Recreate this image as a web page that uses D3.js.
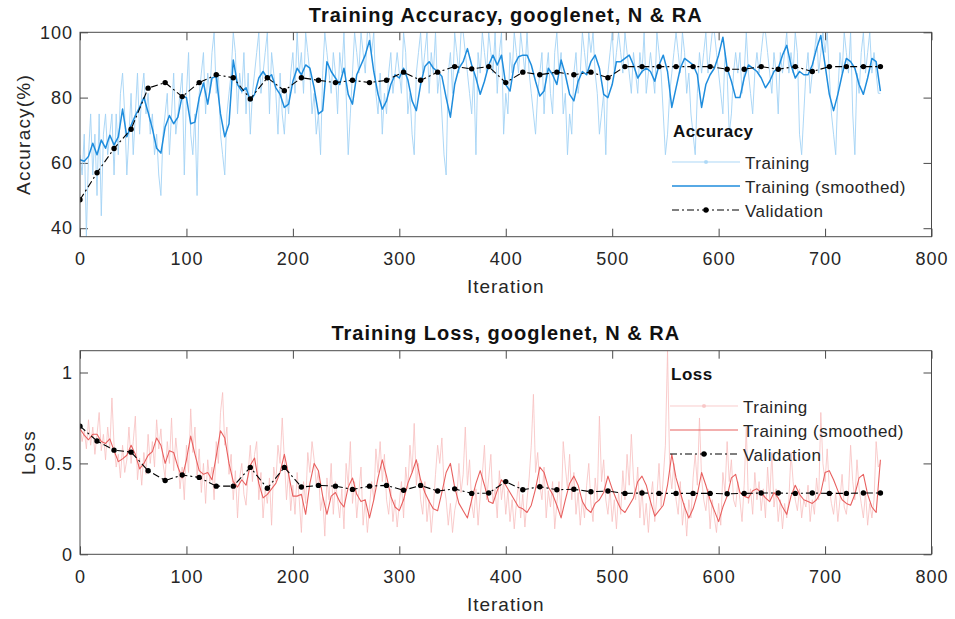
<!DOCTYPE html>
<html>
<head>
<meta charset="utf-8">
<style type="text/css">

  body{
    margin: 0;
    background: white;
  }

  svg text{
    font-family: 'Liberation Sans', Arial, Helvetica, sans-serif;
    fill: #262626;
  }

</style>
</head>
<body>

<script src="https://cdn.jsdelivr.net/npm/d3@7/dist/d3.min.js" type="text/javascript"></script>

<svg id="chart" width="955" height="619"></svg>

<script>

// ---- data ----

var xTicks = [0, 100, 200, 300, 400, 500, 600, 700, 800];
var accTicks = [40, 60, 80, 100];
var lossTicks = [0, 0.5, 1];

var rawStep = 2;     // iterations between raw points
var smoothStep = 4;  // iterations between smoothed points
var valStep = 16;    // iterations between validation points

// raw mini-batch accuracy, one value every 2 iterations
var accRaw = [
  62.5, 56.3, 68.8, 37.5, 62.5, 75, 56.3, 68.8, 50, 75,
  43.8, 68.8, 75, 62.5, 68.8, 75, 56.3, 75, 62.5, 81.3,
  87.5, 75, 56.3, 68.8, 81.3, 62.5, 75, 87.5, 68.8, 81.3,
  87.5, 75, 81.3, 68.8, 75, 62.5, 68.8, 56.3, 50, 68.8,
  75, 81.3, 62.5, 75, 87.5, 68.8, 75, 81.3, 87.5, 56.3,
  81.3, 93.8, 68.8, 62.5, 75, 50, 81.3, 87.5, 93.8, 75,
  87.5, 81.3, 93.8, 100, 81.3, 87.5, 68.8, 62.5, 56.3, 75,
  81.3, 87.5, 100, 93.8, 75, 87.5, 81.3, 93.8, 75, 87.5,
  68.8, 81.3, 87.5, 93.8, 100, 81.3, 87.5, 93.8, 100, 75,
  93.8, 87.5, 81.3, 68.8, 87.5, 75, 68.8, 81.3, 75, 87.5,
  93.8, 81.3, 100, 87.5, 93.8, 81.3, 100, 93.8, 87.5, 75,
  81.3, 68.8, 75, 62.5, 87.5, 100, 93.8, 87.5, 81.3, 93.8,
  87.5, 75, 93.8, 87.5, 100, 81.3, 62.5, 75, 87.5, 100,
  93.8, 87.5, 100, 93.8, 87.5, 100, 100, 93.8, 100, 81.3,
  75, 87.5, 68.8, 81.3, 75, 87.5, 93.8, 81.3, 87.5, 93.8,
  87.5, 81.3, 100, 93.8, 75, 81.3, 68.8, 62.5, 87.5, 93.8,
  100, 87.5, 93.8, 100, 81.3, 93.8, 87.5, 100, 81.3, 87.5,
  75, 62.5, 56.3, 87.5, 93.8, 81.3, 100, 93.8, 87.5, 100,
  100, 93.8, 87.5, 81.3, 75, 87.5, 62.5, 93.8, 87.5, 100,
  93.8, 87.5, 100, 93.8, 87.5, 100, 81.3, 93.8, 100, 68.8,
  81.3, 75, 93.8, 87.5, 100, 93.8, 87.5, 100, 93.8, 87.5,
  100, 87.5, 81.3, 75, 68.8, 81.3, 87.5, 93.8, 75, 87.5,
  93.8, 81.3, 75, 93.8, 100, 87.5, 93.8, 75, 81.3, 62.5,
  75, 68.8, 87.5, 93.8, 81.3, 87.5, 100, 93.8, 87.5, 100,
  93.8, 100, 87.5, 81.3, 68.8, 75, 81.3, 62.5, 87.5, 93.8,
  100, 87.5, 93.8, 100, 93.8, 87.5, 100, 93.8, 87.5, 81.3,
  93.8, 87.5, 81.3, 93.8, 87.5, 100, 81.3, 87.5, 93.8, 87.5,
  81.3, 100, 93.8, 87.5, 75, 62.5, 68.8, 81.3, 87.5, 93.8,
  100, 93.8, 87.5, 100, 93.8, 81.3, 87.5, 75, 68.8, 62.5,
  81.3, 93.8, 87.5, 93.8, 100, 87.5, 93.8, 100, 100, 93.8,
  87.5, 81.3, 75, 93.8, 87.5, 68.8, 75, 87.5, 93.8, 87.5,
  93.8, 81.3, 87.5, 100, 87.5, 81.3, 75, 87.5, 93.8, 87.5,
  93.8, 100, 100, 93.8, 87.5, 81.3, 93.8, 87.5, 75, 93.8,
  87.5, 93.8, 100, 87.5, 93.8, 87.5, 100, 93.8, 68.8, 62.5,
  75, 87.5, 93.8, 81.3, 87.5, 93.8, 100, 87.5, 93.8, 100,
  93.8, 100, 87.5, 75, 68.8, 62.5, 81.3, 93.8, 87.5, 100,
  93.8, 87.5, 100, 75, 62.5, 87.5, 81.3, 93.8, 100, 87.5,
  93.8, 100, 87.5, 93.8, 87.5, 81.3, 81.3
];

// smoothed accuracy, one value every 4 iterations
var accSmooth = [
  61, 60.5, 62, 66, 62.5, 67, 64.5, 68.5, 65.5, 68,
  76.5, 68, 71.5, 74.5, 77, 80, 75.5, 70.5, 64.5, 63,
  71, 74.5, 72, 74, 80.5, 80, 72, 72.5, 80, 84.5,
  78, 86, 86.5, 75, 68, 72, 91.5, 84, 82, 83,
  79, 81, 86, 88, 86, 87, 83, 81, 77, 78,
  85, 89, 87, 90, 89, 83, 75, 76, 91, 88,
  86, 84, 89, 81, 78, 87, 90, 93, 97.5, 88,
  81, 76.5, 79, 84, 87, 86, 89, 85.5, 79, 76,
  84, 89.5, 91, 89, 88, 86.5, 80, 74, 84, 89,
  91, 95, 90, 86, 81, 85, 90, 93, 90, 93,
  84, 82, 90, 92.5, 93, 93, 90, 85, 80.5, 82,
  89, 87, 84, 91.5, 87, 81, 79, 85, 88, 87,
  91, 93, 89, 81, 80, 84, 91, 91, 92, 93,
  90, 86, 88, 89, 88, 85, 90, 93, 88, 77,
  83, 89, 92, 91, 90, 87, 77, 84, 87, 89,
  93, 98.5, 89, 85, 80, 80, 86, 90, 89, 88,
  86, 83, 85, 88, 89, 93, 96, 90, 86, 88,
  87, 87, 90, 95, 99, 90, 81, 76, 81, 87,
  92, 91, 89, 84, 81, 86, 92, 91, 82
];

// validation accuracy, one value every 16 iterations
var accVal = [
  48.7, 57, 64.4, 70.3, 82.9, 84.6, 80.3, 84.6, 87, 86.1,
  79.6, 86.1, 82.1, 86.1, 85.3, 84.6, 85.3, 84.6, 85.3, 87.8,
  85.3, 87.8, 89.5, 88.8, 89.5, 84.6, 87.8, 87, 87.8, 87,
  87.8, 86.1, 89.5, 89.5, 89.5, 89.5, 89.5, 89.5, 88.7, 88.7,
  89.5, 88.7, 89.5, 88, 89.5, 89.5, 89.5, 89.5
];

// raw mini-batch loss, one value every 2 iterations
var lossRaw = [
  0.71, 0.62, 0.68, 0.58, 0.74, 0.6, 0.7, 0.55, 0.66, 0.78,
  0.57, 0.66, 0.52, 0.7, 0.58, 0.86, 0.6, 0.48, 0.55, 0.42,
  0.6, 0.45, 0.52, 0.7, 0.5, 0.62, 0.76, 0.41, 0.53, 0.38,
  0.56, 0.44, 0.66, 0.5, 0.62, 0.48, 0.74, 0.58, 0.69, 0.5,
  0.42, 0.62, 0.5, 0.75, 0.46, 0.64, 0.52, 0.36, 0.48, 0.3,
  0.6, 0.45, 0.8, 0.56, 0.7, 0.42, 0.58, 0.34, 0.5, 0.28,
  0.52, 0.4, 0.48, 0.3, 0.62, 0.5, 0.78, 0.89, 0.6, 0.7,
  0.44, 0.55, 0.3, 0.46, 0.2, 0.42, 0.5, 0.33, 0.27, 0.45,
  0.6, 0.4, 0.55, 0.62, 0.3, 0.45, 0.2, 0.36, 0.28, 0.42,
  0.16, 0.48, 0.4, 0.6, 0.5, 0.75, 0.52, 0.3, 0.46, 0.24,
  0.38, 0.22, 0.45, 0.3, 0.12, 0.4, 0.28, 0.56, 0.45, 0.62,
  0.52, 0.38, 0.46, 0.24, 0.32, 0.1, 0.42, 0.3, 0.5, 0.22,
  0.4, 0.3, 0.2, 0.36, 0.14, 0.5, 0.38, 0.62, 0.28, 0.4,
  0.2, 0.34, 0.48, 0.16, 0.3, 0.12, 0.26, 0.4, 0.3, 0.58,
  0.45, 0.62, 0.4, 0.55, 0.3, 0.22, 0.36, 0.18, 0.3, 0.15,
  0.28, 0.4, 0.2, 0.48, 0.36, 0.6, 0.45, 0.72, 0.38, 0.5,
  0.3, 0.22, 0.4, 0.18, 0.3, 0.12, 0.26, 0.44, 0.6, 0.5,
  0.64, 0.38, 0.3, 0.16, 0.28, 0.12, 0.24, 0.3, 0.5, 0.34,
  0.44, 0.7, 0.38, 0.52, 0.28, 0.2, 0.36, 0.16, 0.32, 0.44,
  0.6, 0.3, 0.42, 0.55, 0.28, 0.36, 0.2, 0.46, 0.3, 0.4,
  0.22, 0.35, 0.18, 0.3, 0.14, 0.28, 0.4, 0.2, 0.33, 0.15,
  0.3, 0.42, 0.6, 0.88, 0.45, 0.56, 0.38, 0.3, 0.48, 0.2,
  0.35, 0.26, 0.4, 0.14, 0.28, 0.4, 0.22, 0.62, 0.48, 0.36,
  0.55, 0.3, 0.45, 0.22, 0.34, 0.16, 0.3, 0.2, 0.38, 0.5,
  0.28, 0.18, 0.42, 0.3, 0.76, 0.4, 0.52, 0.3, 0.22, 0.36,
  0.18, 0.3, 0.14, 0.34, 0.22, 0.46, 0.3, 0.55, 0.38, 0.66,
  0.42, 0.3, 0.48, 0.2, 0.36, 0.16, 0.28, 0.12, 0.3, 0.4,
  0.18, 0.32, 0.5, 0.26, 0.42, 0.6, 1.12, 0.48, 0.36, 0.5,
  0.3, 0.22, 0.4, 0.16, 0.28, 0.1, 0.3, 0.2, 0.42, 0.55,
  0.38, 0.75, 0.42, 0.3, 0.24, 0.36, 0.14, 0.3, 0.2, 0.12,
  0.28, 0.16, 0.45, 0.34, 0.62, 0.4, 0.52, 0.3, 0.26, 0.4,
  0.3, 0.18, 0.38, 0.7, 0.28, 0.36, 0.22, 0.45, 0.3, 0.4,
  0.24, 0.36, 0.2, 0.48, 0.3, 0.56, 0.26, 0.36, 0.18, 0.3,
  0.14, 0.28, 0.2, 0.3, 0.56, 0.4, 0.3, 0.24, 0.36, 0.2,
  0.3, 0.26, 0.38, 0.18, 0.3, 0.22, 0.42, 0.3, 0.78, 0.5,
  0.4, 0.58, 0.36, 0.28, 0.22, 0.34, 0.18, 0.3, 0.44, 0.26,
  0.22, 0.34, 0.6, 0.4, 0.3, 0.52, 0.36, 0.28, 0.2, 0.34,
  0.16, 0.28, 0.2, 0.3, 0.62, 0.48, 0.5
];

// smoothed loss, one value every 4 iterations
var lossSmooth = [
  0.69, 0.655, 0.63, 0.66, 0.66, 0.62, 0.61, 0.635, 0.57, 0.51,
  0.525, 0.545, 0.6, 0.55, 0.47, 0.5, 0.545, 0.565, 0.64, 0.6,
  0.5, 0.57, 0.56, 0.48, 0.42, 0.52, 0.65, 0.55, 0.46, 0.44,
  0.45, 0.41, 0.54, 0.68, 0.64, 0.5, 0.4, 0.37, 0.41, 0.38,
  0.49, 0.53, 0.39, 0.31, 0.33, 0.36, 0.39, 0.45, 0.55, 0.44,
  0.32, 0.32, 0.33, 0.22, 0.39, 0.5, 0.46, 0.32, 0.22, 0.32,
  0.34, 0.29, 0.26, 0.37, 0.42, 0.33, 0.29, 0.3, 0.2, 0.3,
  0.42, 0.52, 0.43, 0.32, 0.26, 0.24, 0.3, 0.39, 0.45, 0.52,
  0.41, 0.34, 0.29, 0.25, 0.24, 0.34, 0.45, 0.5, 0.37, 0.28,
  0.24, 0.2, 0.3, 0.39, 0.46, 0.38, 0.29, 0.28, 0.35, 0.41,
  0.38, 0.34, 0.3, 0.26, 0.25, 0.23, 0.27, 0.36, 0.48, 0.45,
  0.37, 0.33, 0.27, 0.2, 0.3, 0.39, 0.43, 0.38, 0.29, 0.25,
  0.23, 0.28, 0.3, 0.34, 0.43, 0.36, 0.3, 0.25, 0.23, 0.27,
  0.31, 0.4, 0.43, 0.38, 0.29, 0.21, 0.24, 0.27, 0.38, 0.55,
  0.42, 0.34, 0.26, 0.2, 0.25, 0.33, 0.45, 0.38, 0.3, 0.24,
  0.18, 0.26, 0.32, 0.42, 0.44, 0.34, 0.32, 0.31, 0.35, 0.36,
  0.34, 0.31, 0.29, 0.34, 0.31, 0.26, 0.22, 0.32, 0.38, 0.33,
  0.3, 0.29, 0.28, 0.3, 0.34, 0.45, 0.46, 0.41, 0.35, 0.3,
  0.28, 0.27, 0.33, 0.42, 0.44, 0.33, 0.26, 0.23, 0.52
];

// validation loss, one value every 16 iterations
var lossVal = [
  0.705, 0.623, 0.573, 0.562, 0.46, 0.406, 0.436, 0.423, 0.375, 0.375,
  0.478, 0.363, 0.478, 0.37, 0.379, 0.375, 0.357, 0.375, 0.379, 0.352,
  0.379, 0.348, 0.36, 0.335, 0.337, 0.4, 0.355, 0.372, 0.355, 0.358,
  0.344, 0.348, 0.335, 0.337, 0.335, 0.335, 0.335, 0.335, 0.333, 0.335,
  0.337, 0.337, 0.335, 0.337, 0.335, 0.335, 0.337, 0.337
];

// ---- layout ----

var svg = d3.select('#chart');

var left = 80, right = 931.5;
var tickLen = 8;
var frameColor = '#4a4a4a';

var x = d3.scaleLinear().domain([0, 800]).range([left, right]);

var panels = [
  {
    name: 'acc',
    top: 32.3, bottom: 236.7,
    yDomain: [37.4, 100],
    yTicks: accTicks,
    yFormat: d3.format('d'),
    title: 'Training Accuracy, googlenet, N & RA',
    titleY: 22,
    yLabel: 'Accuracy(%)', yLabelX: 30,
    raw: accRaw, smooth: accSmooth, val: accVal,
    rawColor: '#a3d3f5', rawOpacity: 0.9,
    smoothColor: '#1f8ddd', smoothWidth: 1.5,
    legendTitle: 'Accuracy', legendX: 672, legendTitleY: 136.5, legendRowY: 162
  },
  {
    name: 'loss',
    top: 350.7, bottom: 554.3,
    yDomain: [0, 1.12],
    yTicks: lossTicks,
    yFormat: function(d) { return d === 0.5 ? '0.5' : String(d); },
    title: 'Training Loss, googlenet, N & RA',
    titleY: 339.5,
    yLabel: 'Loss', yLabelX: 35,
    raw: lossRaw, smooth: lossSmooth, val: lossVal,
    rawColor: '#f7bfbf', rawOpacity: 0.8,
    smoothColor: '#e8605f', smoothWidth: 1.1,
    legendTitle: 'Loss', legendX: 670, legendTitleY: 380, legendRowY: 406
  }
];

panels.forEach(drawPanel);

function drawPanel(p) {

  var y = d3.scaleLinear().domain(p.yDomain).range([p.bottom, p.top]);
  var g = svg.append('g').attr('class', 'panel-' + p.name);

  var clipId = 'clip-' + p.name;
  svg.append('clipPath').attr('id', clipId)
    .append('rect')
    .attr('x', left).attr('y', p.top)
    .attr('width', right - left).attr('height', p.bottom - p.top);

  // axes, ticks pointing inside like matlab
  var xb = g.append('g')
    .attr('transform', 'translate(0,' + p.bottom + ')')
    .call(d3.axisBottom(x).tickValues(xTicks).tickSize(-tickLen).tickPadding(15.5));
  var xt = g.append('g')
    .attr('transform', 'translate(0,' + p.top + ')')
    .call(d3.axisTop(x).tickValues(xTicks).tickSize(-tickLen).tickFormat(''));
  var yl = g.append('g')
    .attr('transform', 'translate(' + left + ',0)')
    .call(d3.axisLeft(y).tickValues(p.yTicks).tickSize(-tickLen).tickPadding(7).tickFormat(p.yFormat));
  var yr = g.append('g')
    .attr('transform', 'translate(' + right + ',0)')
    .call(d3.axisRight(y).tickValues(p.yTicks).tickSize(-tickLen).tickFormat(''));

  [xb, xt, yl, yr].forEach(function(a) {
    a.attr('color', frameColor);
    a.select('.domain').remove();
    a.selectAll('text')
      .attr('font-size', 18)
      .style('letter-spacing', '1px');
  });

  // lines
  var plot = g.append('g').attr('clip-path', 'url(#' + clipId + ')');

  var rawLine = d3.line()
    .x(function(d, i) { return x(i * rawStep); })
    .y(function(d) { return y(d); });
  var smoothLine = d3.line()
    .x(function(d, i) { return x(i * smoothStep); })
    .y(function(d) { return y(d); });
  var valLine = d3.line()
    .x(function(d, i) { return x(i * valStep); })
    .y(function(d) { return y(d); });

  plot.append('path')
    .datum(p.raw)
    .attr('d', rawLine)
    .attr('fill', 'none')
    .attr('stroke', p.rawColor)
    .attr('stroke-opacity', p.rawOpacity)
    .attr('stroke-width', 1);

  plot.append('path')
    .datum(p.smooth)
    .attr('d', smoothLine)
    .attr('fill', 'none')
    .attr('stroke', p.smoothColor)
    .attr('stroke-width', p.smoothWidth)
    .attr('stroke-linejoin', 'round');

  plot.append('path')
    .datum(p.val)
    .attr('d', valLine)
    .attr('fill', 'none')
    .attr('stroke', 'black')
    .attr('stroke-width', 1.1)
    .attr('stroke-dasharray', '7,3,2,3');

  plot.selectAll('.valDot')
    .data(p.val)
    .enter()
    .append('circle')
    .attr('class', 'valDot')
    .attr('cx', function(d, i) { return x(i * valStep); })
    .attr('cy', function(d) { return y(d); })
    .attr('r', 2.7)
    .attr('fill', 'black');

  // frame
  g.append('rect')
    .attr('x', left).attr('y', p.top)
    .attr('width', right - left).attr('height', p.bottom - p.top)
    .attr('fill', 'none')
    .attr('stroke', frameColor)
    .attr('stroke-width', 1);

  // titles and labels
  g.append('text')
    .attr('x', (left + right) / 2)
    .attr('y', p.titleY)
    .attr('text-anchor', 'middle')
    .attr('font-size', 20)
    .attr('font-weight', 'bold')
    .style('letter-spacing', '1px')
    .style('fill', '#111')
    .text(p.title);

  g.append('text')
    .attr('x', (left + right) / 2)
    .attr('y', p.bottom + 56.5)
    .attr('text-anchor', 'middle')
    .attr('font-size', 19)
    .style('letter-spacing', '1px')
    .text('Iteration');

  g.append('text')
    .attr('transform', 'translate(' + p.yLabelX + ',' + ((p.top + p.bottom) / 2) + ') rotate(-90)')
    .attr('text-anchor', 'middle')
    .attr('font-size', 19)
    .style('letter-spacing', '1.2px')
    .text(p.yLabel);

  // legend
  var lg = g.append('g');
  var lx0 = p.legendX, lx1 = p.legendX + 68, tx = p.legendX + 73;
  var rowGap = 24;

  lg.append('text')
    .attr('x', p.legendX + 1)
    .attr('y', p.legendTitleY)
    .attr('font-size', 17)
    .attr('font-weight', 'bold')
    .style('letter-spacing', '0.5px')
    .style('fill', '#111')
    .text(p.legendTitle);

  var rows = [
    { label: 'Training', kind: 'raw' },
    { label: 'Training (smoothed)', kind: 'smooth' },
    { label: 'Validation', kind: 'val' }
  ];

  rows.forEach(function(r, i) {
    var ly = p.legendRowY + i * rowGap;
    var ln = lg.append('line')
      .attr('x1', lx0).attr('x2', lx1)
      .attr('y1', ly).attr('y2', ly)
      .attr('fill', 'none');
    if (r.kind === 'raw') {
      ln.attr('stroke', p.rawColor).attr('stroke-opacity', p.rawOpacity).attr('stroke-width', 1);
      lg.append('circle').attr('cx', (lx0 + lx1) / 2).attr('cy', ly).attr('r', 2)
        .attr('fill', p.rawColor).attr('fill-opacity', 0.8);
    } else if (r.kind === 'smooth') {
      ln.attr('stroke', p.smoothColor).attr('stroke-width', p.smoothWidth);
    } else {
      ln.attr('stroke', 'black').attr('stroke-width', 1.1).attr('stroke-dasharray', '7,3,2,3');
      lg.append('circle').attr('cx', (lx0 + lx1) / 2).attr('cy', ly).attr('r', 2.7).attr('fill', 'black');
    }
    lg.append('text')
      .attr('x', tx)
      .attr('y', ly + 7)
      .attr('font-size', 17)
      .style('letter-spacing', '0.5px')
      .text(r.label);
  });

}

</script>

</body>
</html>
